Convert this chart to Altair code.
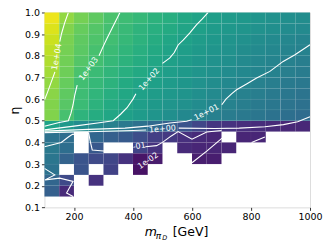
import altair as alt
import pandas as pd

# ---- grid edges ----
m_edges = [100, 150, 200, 250, 300, 350, 400, 450, 500, 550, 600, 650, 700, 750, 800, 850, 900, 950, 1000]
eta_edges = [0.10, 0.15, 0.20, 0.25, 0.30, 0.35, 0.40, 0.45, 0.50, 0.55, 0.60, 0.65, 0.70, 0.75, 0.80, 0.85, 0.90, 0.95, 1.00]

N = None
# log10 of the plotted quantity, one list per eta row (bottom edge in the name)
z_095 = [5.1, 4.05, 3.7, 3.4, 3.1, 2.9, 2.75, 2.55, 2.4, 2.2, 2.05, 1.9, 1.8, 1.7, 1.6, 1.5, 1.4, 1.35]
z_090 = [4.9, 3.85, 3.5, 3.25, 3.0, 2.8, 2.6, 2.45, 2.3, 2.1, 1.95, 1.8, 1.7, 1.6, 1.5, 1.4, 1.3, 1.25]
z_085 = [4.7, 3.75, 3.4, 3.15, 2.95, 2.75, 2.55, 2.35, 2.15, 1.98, 1.85, 1.7, 1.55, 1.45, 1.35, 1.25, 1.15, 1.05]
z_080 = [4.55, 3.7, 3.35, 3.05, 2.85, 2.65, 2.45, 2.25, 2.05, 1.9, 1.75, 1.6, 1.5, 1.35, 1.25, 1.15, 1.05, 0.97]
z_075 = [4.4, 3.65, 3.25, 2.98, 2.75, 2.55, 2.35, 2.15, 1.95, 1.8, 1.65, 1.5, 1.4, 1.25, 1.15, 1.05, 0.95, 0.85]
z_070 = [4.25, 3.6, 3.1, 2.85, 2.65, 2.45, 2.25, 2.05, 1.9, 1.75, 1.6, 1.45, 1.3, 1.2, 1.1, 0.98, 0.88, 0.8]
z_065 = [4.05, 3.5, 2.95, 2.75, 2.55, 2.3, 2.1, 1.95, 1.8, 1.65, 1.5, 1.35, 1.2, 1.05, 0.95, 0.85, 0.75, 0.68]
z_060 = [3.95, 3.4, 2.9, 2.65, 2.4, 2.2, 1.98, 1.85, 1.7, 1.55, 1.4, 1.25, 1.05, 0.95, 0.85, 0.75, 0.65, 0.55]
z_055 = [3.85, 3.3, 2.85, 2.55, 2.3, 2.1, 1.9, 1.75, 1.6, 1.45, 1.3, 1.12, 0.98, 0.85, 0.75, 0.65, 0.55, 0.45]
z_050 = [3.85, 3.05, 2.6, 2.35, 2.15, 1.95, 1.8, 1.6, 1.4, 1.2, 1.0, 0.9, 0.8, 0.7, 0.6, 0.5, 0.4, 0.3]
z_045 = [2.05, 1.7, 1.3, 1.15, 0.95, 0.7, 0.45, 0.2, -0.05, -0.4, -0.8, -1.2, -1.3, -1.4, -1.45, -1.5, -1.55, -1.55]
z_040 = [0.5, 0.37, N, 0.15, -0.1, -0.25, -0.6, -1.0, -1.15, -1.35, -1.5, -1.6, N, -1.6, -1.6, N, N, N]
z_035 = [0.7, 0.35, N, -0.3, N, N, -0.85, -1.3, N, -1.5, -1.6, -1.6, -1.6, N, N, N, N, N]
z_030 = [0.6, 0.0, -0.4, -0.7, -0.8, -1.3, -2.0, -1.85, N, N, -1.8, -1.8, N, N, N, N, N, N]
z_025 = [0.5, N, -0.4, N, -0.9, N, -2.05, N, N, N, N, N, N, N, N, N, N, N]
z_020 = [0.1, -0.7, N, -1.3, N, N, N, N, N, N, N, N, N, N, N, N, N, N]
z_015 = [-0.1, -1.5, N, N, N, N, N, N, N, N, N, N, N, N, N, N, N, N]
z_010 = [N] * 18

z_rows = [z_010, z_015, z_020, z_025, z_030, z_035, z_040, z_045, z_050,
          z_055, z_060, z_065, z_070, z_075, z_080, z_085, z_090, z_095]

# ---- contour lines (m, eta) ----
c4_a_m = [100, 110, 122, 135.6]
c4_a_eta = [0.596, 0.63, 0.675, 0.726]
c4_b_m = [152, 158, 168, 181]
c4_b_eta = [0.865, 0.903, 0.95, 1.0]

c3_a_m = [100, 150, 181, 190, 197, 203, 211]
c3_a_eta = [0.475, 0.492, 0.50, 0.535, 0.574, 0.62, 0.665]
c3_b_m = [285, 298, 311, 330, 356]
c3_b_eta = [0.80, 0.84, 0.878, 0.93, 1.0]

c2_a_m = [100, 200, 280, 333, 358, 380, 400, 410]
c2_a_eta = [0.458, 0.475, 0.49, 0.50, 0.53, 0.56, 0.60, 0.625]
c2_b_m = [500, 525, 540, 553, 570, 592, 615, 635, 655]
c2_b_eta = [0.765, 0.79, 0.815, 0.85, 0.872, 0.905, 0.943, 0.97, 1.0]

c1_a_m = [100, 250, 373, 450, 525, 582, 599]
c1_a_eta = [0.452, 0.46, 0.466, 0.475, 0.49, 0.498, 0.505]
c1_b_m = [701, 715, 735, 751, 785, 819, 864, 909, 949, 1000]
c1_b_eta = [0.574, 0.60, 0.625, 0.643, 0.67, 0.697, 0.728, 0.774, 0.805, 0.851]

c0_a_m = [100, 250, 400, 445]
c0_a_eta = [0.445, 0.449, 0.455, 0.457]
c0_b_m = [555, 678, 760, 847, 910, 958, 1000]
c0_b_eta = [0.466, 0.464, 0.466, 0.472, 0.482, 0.495, 0.518]

cm1_a_m = [100, 157, 181, 195, 250, 256, 262, 300, 340, 372]
cm1_a_eta = [0.38, 0.40, 0.425, 0.437, 0.442, 0.40, 0.365, 0.36, 0.365, 0.372]
cm1_b_m = [442, 480, 500, 530, 553, 600, 650, 700]
cm1_b_eta = [0.38, 0.385, 0.40, 0.43, 0.45, 0.415, 0.448, 0.455]
cm1_c_m = [600, 650, 702]
cm1_c_eta = [0.306, 0.36, 0.42]
cm1_d_m = [802, 847]
cm1_d_eta = [0.40, 0.425]
cm2_a_m = [100, 135, 102, 152, 197, 175, 197]
cm2_a_eta = [0.28, 0.25, 0.227, 0.235, 0.22, 0.166, 0.15]

segments = [
    ("c4a", c4_a_m, c4_a_eta), ("c4b", c4_b_m, c4_b_eta),
    ("c3a", c3_a_m, c3_a_eta), ("c3b", c3_b_m, c3_b_eta),
    ("c2a", c2_a_m, c2_a_eta), ("c2b", c2_b_m, c2_b_eta),
    ("c1a", c1_a_m, c1_a_eta), ("c1b", c1_b_m, c1_b_eta),
    ("c0a", c0_a_m, c0_a_eta), ("c0b", c0_b_m, c0_b_eta),
    ("cm1a", cm1_a_m, cm1_a_eta), ("cm1b", cm1_b_m, cm1_b_eta),
    ("cm1c", cm1_c_m, cm1_c_eta), ("cm1d", cm1_d_m, cm1_d_eta),
    ("cm2a", cm2_a_m, cm2_a_eta),
]

label_text = ["1e+04", "1e+03", "1e+02", "1e+01", "1e+00", "1e-01", "1e-02"]
label_m = [143, 251, 456, 650, 500, 405, 452]
label_eta = [0.795, 0.739, 0.69, 0.537, 0.46, 0.377, 0.314]
label_angle = [280, 306, 311, 333, 355, 350, 325]

x_ticks = [200, 400, 600, 800, 1000]
y_ticks = [0.1, 0.2, 0.3, 0.4, 0.5, 0.6, 0.7, 0.8, 0.9, 1.0]

# ---- tables ----
cells = []
for j, row in enumerate(z_rows):
    for i, v in enumerate(row):
        if v is not None:
            cells.append({"m0": m_edges[i], "m1": m_edges[i + 1],
                          "e0": eta_edges[j], "e1": eta_edges[j + 1], "z": v})
cells = pd.DataFrame(cells)

lines = []
for name, ms, es in segments:
    for k, (mm, ee) in enumerate(zip(ms, es)):
        lines.append({"seg": name, "k": k, "m": mm, "eta": ee})
lines = pd.DataFrame(lines)

labels = pd.DataFrame({"text": label_text, "m": label_m, "eta": label_eta, "angle": label_angle})

W, H = 266, 195.2


def xscale():
    return alt.Scale(domain=[100, 1000], nice=False, zero=False)


def yscale():
    return alt.Scale(domain=[0.1, 1.0], nice=False, zero=False)


def xaxis():
    return alt.Axis(values=x_ticks, format="d", title=None,
                    grid=False, domain=False, tickSize=3, tickColor="black",
                    tickWidth=0.8, labelPadding=1, labelFontSize=9.5,
                    labelColor="black", labelFont="DejaVu Sans",
                    labelOverlap=False, labelFlush=False)


def yaxis():
    return alt.Axis(values=y_ticks, format=".1f",
                    title="η", titleFontSize=12.5, titleFont="DejaVu Sans",
                    titleFontWeight="normal", titleColor="black",
                    titleAngle=270, titleBaseline="alphabetic", titleX=-25.5, titleAlign="center",
                    grid=False, domain=False, tickSize=3, tickColor="black",
                    tickWidth=0.8, labelPadding=2, labelFontSize=9.5,
                    labelColor="black", labelFont="DejaVu Sans",
                    labelOverlap=False, labelFlush=False)


heat = alt.Chart(cells).mark_rect(stroke="white", strokeWidth=0.4, strokeOpacity=0.08).encode(
    x=alt.X("m0:Q", scale=xscale(), axis=xaxis()),
    x2="m1:Q",
    y=alt.Y("e0:Q", scale=yscale(), axis=yaxis()),
    y2="e1:Q",
    color=alt.Color("z:Q", scale=alt.Scale(scheme="viridis", domain=[-2.4, 5.3]), legend=None),
)

contours = alt.Chart(lines).mark_line(color="white", strokeWidth=1.1, clip=True).encode(
    x=alt.X("m:Q", scale=xscale(), axis=xaxis()),
    y=alt.Y("eta:Q", scale=yscale(), axis=yaxis()),
    detail="seg:N",
    order="k:Q",
)

clabels = alt.Chart(labels).mark_text(color="white", fontSize=8, font="DejaVu Sans").encode(
    x=alt.X("m:Q", scale=xscale(), axis=xaxis()),
    y=alt.Y("eta:Q", scale=yscale(), axis=yaxis()),
    text="text:N",
    angle=alt.Angle("angle:Q", scale=None),
)

title_parts = ["m", "π", "D", "[GeV]"]
t_m = alt.Chart(pd.DataFrame({"t": [title_parts[0]]})).mark_text(
    align="left", baseline="alphabetic", fontSize=12.5, fontStyle="italic",
    font="DejaVu Sans", color="black").encode(x=alt.value(100.5), y=alt.value(224.0), text="t:N")
t_pi = alt.Chart(pd.DataFrame({"t": [title_parts[1]]})).mark_text(
    align="left", baseline="alphabetic", fontSize=9, fontStyle="italic",
    font="DejaVu Sans", color="black").encode(x=alt.value(111.5), y=alt.value(226.5), text="t:N")
t_d = alt.Chart(pd.DataFrame({"t": [title_parts[2]]})).mark_text(
    align="left", baseline="alphabetic", fontSize=6.5, fontStyle="italic",
    font="DejaVu Sans", color="black").encode(x=alt.value(118.0), y=alt.value(228.0), text="t:N")
t_gev = alt.Chart(pd.DataFrame({"t": [title_parts[3]]})).mark_text(
    align="left", baseline="alphabetic", fontSize=12.5,
    font="DejaVu Sans", color="black").encode(x=alt.value(128.5), y=alt.value(224.0), text="t:N")

chart = alt.layer(heat, contours, clabels, t_m, t_pi, t_d, t_gev).properties(
    width=W, height=H,
    padding={"left": 36.5, "top": 4.3, "right": 14, "bottom": 40},
    autosize=alt.AutoSizeParams(type="none"),
).configure_view(stroke="#222222", strokeWidth=1).configure(background="white")

chart.save("out.html", embed_options={"renderer": "svg", "actions": False})
